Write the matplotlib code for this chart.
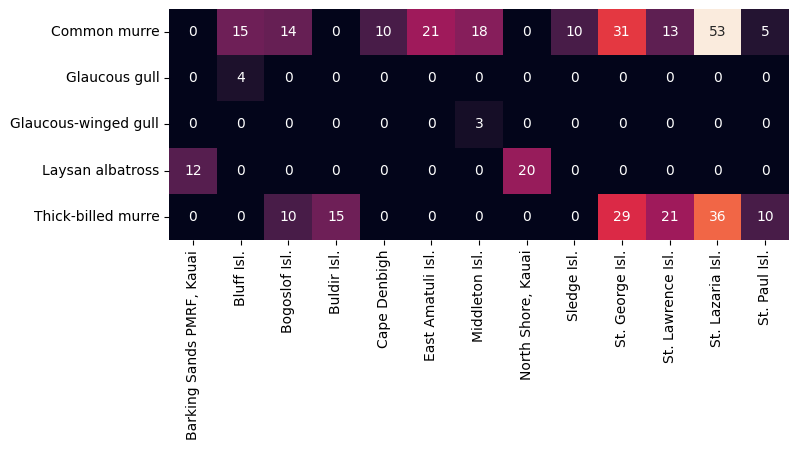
import matplotlib
matplotlib.use("Agg")
import matplotlib.pyplot as plt
import pandas as pd
import seaborn as sns

species = [
    "Common murre",
    "Glaucous gull",
    "Glaucous-winged gull",
    "Laysan albatross",
    "Thick-billed murre",
]
sites = [
    "Barking Sands PMRF, Kauai",
    "Bluff Isl.",
    "Bogoslof Isl.",
    "Buldir Isl.",
    "Cape Denbigh",
    "East Amatuli Isl.",
    "Middleton Isl.",
    "North Shore, Kauai",
    "Sledge Isl.",
    "St. George Isl.",
    "St. Lawrence Isl.",
    "St. Lazaria Isl.",
    "St. Paul Isl.",
]
common_murre = [0, 15, 14, 0, 10, 21, 18, 0, 10, 31, 13, 53, 5]
glaucous_gull = [0, 4, 0, 0, 0, 0, 0, 0, 0, 0, 0, 0, 0]
glaucous_winged_gull = [0, 0, 0, 0, 0, 0, 3, 0, 0, 0, 0, 0, 0]
laysan_albatross = [12, 0, 0, 0, 0, 0, 0, 20, 0, 0, 0, 0, 0]
thick_billed_murre = [0, 0, 10, 15, 0, 0, 0, 0, 0, 29, 21, 36, 10]

counts = pd.DataFrame(
    [common_murre, glaucous_gull, glaucous_winged_gull, laysan_albatross, thick_billed_murre],
    index=species,
    columns=sites,
)

fig = plt.figure(figsize=(7.98, 4.5), dpi=100)
ax = fig.add_axes([0.2118, 0.4667, 0.7769, 0.5133])
sns.heatmap(counts, annot=True, fmt="d", cbar=False, ax=ax)
ax.set_xlabel("")
ax.set_ylabel("")
ax.tick_params(axis="x", rotation=90)
ax.tick_params(axis="y", rotation=0)

fig.savefig("out.png", dpi=100)
